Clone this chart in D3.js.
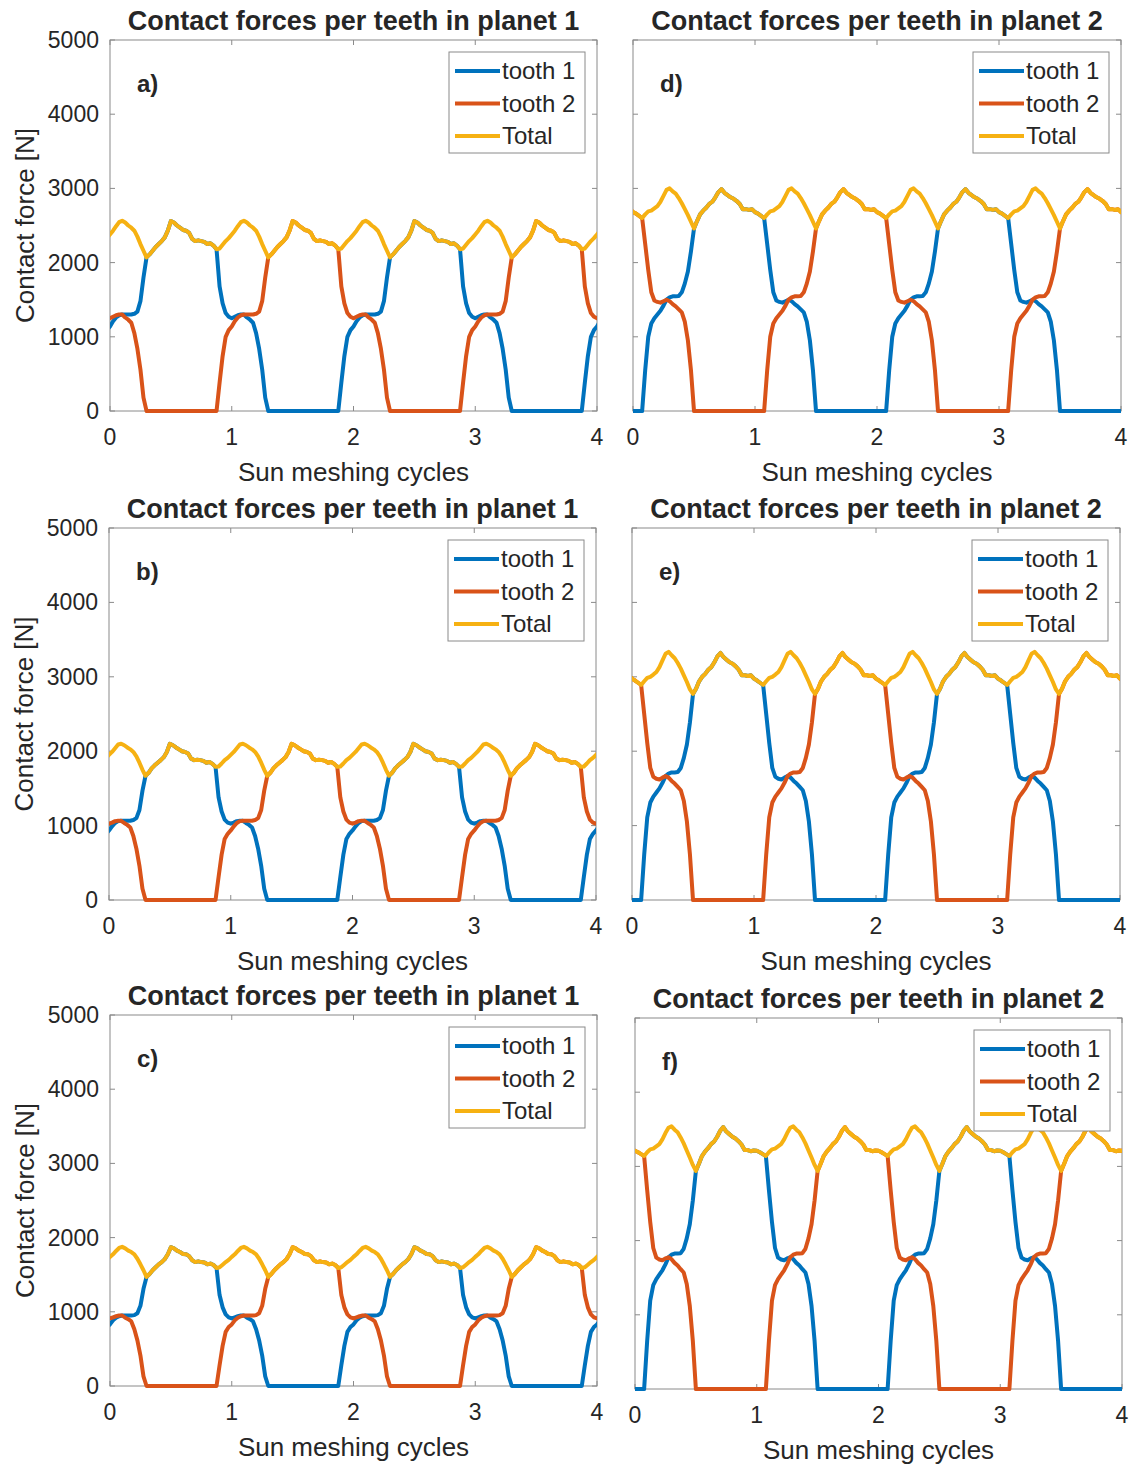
<!DOCTYPE html>
<html>
<head>
<meta charset="utf-8">
<script src="https://cdn.jsdelivr.net/npm/d3@7"></script>
<style>
  body { margin: 0; background: #fff; }
  text { font-family: "Liberation Sans", Arial, sans-serif; fill: #262626; }
</style>
</head>
<body>
<svg width="1134" height="1465"></svg>
<script>
// phases of one sun meshing cycle (total force is periodic with 1 cycle)
const cyclePhase = [0, 0.025, 0.05, 0.075, 0.1, 0.125, 0.15, 0.175, 0.2, 0.225,
  0.25, 0.275, 0.3, 0.325, 0.35, 0.375, 0.4, 0.425, 0.45, 0.475,
  0.5, 0.525, 0.55, 0.575, 0.6, 0.625, 0.65, 0.675, 0.7, 0.725,
  0.75, 0.775, 0.8, 0.825, 0.85, 0.875, 0.9, 0.925, 0.95, 0.975];

// double contact windows (relative to the cycle start)
const contactPhase1 = [-0.125, -0.1, -0.075, -0.05, -0.025, 0, 0.025, 0.05, 0.075, 0.1,
  0.125, 0.15, 0.175, 0.2, 0.225, 0.25, 0.275, 0.3];
const contactPhase2 = [0.075, 0.1, 0.125, 0.15, 0.175, 0.2, 0.225, 0.25, 0.275, 0.3,
  0.325, 0.35, 0.375, 0.4, 0.425, 0.45, 0.475, 0.5];

const xTicks = [0, 1, 2, 3, 4];
const yTicks = [0, 1000, 2000, 3000, 4000, 5000];
const seriesNames = ["tooth 1", "tooth 2", "Total"];
const seriesColors = ["#0072BD", "#D95319", "#F6B112"];

// planet 1
const totalA = [2380, 2430, 2490, 2545, 2565, 2540, 2500, 2470, 2430, 2350, 2250, 2160, 2070, 2110, 2160, 2210, 2250, 2290, 2340, 2430,
  2560, 2540, 2500, 2470, 2440, 2430, 2400, 2320, 2290, 2300, 2290, 2280, 2250, 2260, 2230, 2180, 2190, 2240, 2290, 2330];
const enterA = [0, 380, 740, 1000, 1090, 1140, 1210, 1260, 1290, 1300, 1300, 1300, 1300, 1310, 1340, 1480, 1800, 2070];
const leaveA = [2180, 1680, 1450, 1320, 1270, 1250, 1270, 1290, 1300, 1300, 1260, 1230, 1190, 1050, 840, 560, 180, 0];

const totalB = [1950, 1990, 2040, 2090, 2100, 2080, 2050, 2025, 1990, 1930, 1845, 1750, 1670, 1710, 1770, 1810, 1845, 1880, 1920, 1990,
  2100, 2080, 2050, 2025, 2000, 1990, 1970, 1900, 1880, 1885, 1880, 1870, 1845, 1855, 1830, 1790, 1795, 1835, 1880, 1910];
const enterB = [0, 310, 610, 820, 890, 935, 990, 1035, 1060, 1065, 1065, 1065, 1065, 1075, 1100, 1210, 1470, 1670];
const leaveB = [1790, 1380, 1190, 1080, 1040, 1025, 1040, 1060, 1065, 1065, 1035, 1010, 975, 860, 690, 460, 150, 0];

const totalC = [1740, 1775, 1820, 1860, 1875, 1855, 1825, 1805, 1775, 1715, 1640, 1560, 1470, 1510, 1560, 1600, 1640, 1670, 1710, 1775,
  1870, 1855, 1825, 1805, 1780, 1775, 1750, 1695, 1670, 1680, 1670, 1665, 1640, 1650, 1630, 1590, 1600, 1635, 1670, 1700];
const enterC = [0, 280, 540, 730, 795, 830, 885, 920, 940, 950, 950, 950, 950, 955, 980, 1080, 1310, 1470];
const leaveC = [1590, 1225, 1060, 965, 925, 910, 925, 940, 950, 950, 920, 900, 870, 765, 615, 410, 130, 0];

// planet 2
const totalD = [2680, 2660, 2630, 2600, 2650, 2690, 2700, 2730, 2760, 2820, 2900, 2980, 3000, 2960, 2930, 2870, 2800, 2720, 2640, 2550,
  2460, 2560, 2650, 2700, 2740, 2790, 2820, 2880, 2950, 2990, 2940, 2910, 2880, 2860, 2830, 2790, 2720, 2720, 2710, 2720];
const enterD = [0, 550, 1000, 1180, 1250, 1300, 1350, 1420, 1500, 1530, 1545, 1545, 1550, 1600, 1720, 1880, 2150, 2460];
const leaveD = [2600, 2250, 1900, 1600, 1490, 1470, 1460, 1480, 1500, 1480, 1440, 1410, 1370, 1330, 1200, 950, 550, 0];

const totalE = [2975, 2950, 2920, 2890, 2940, 2985, 3000, 3030, 3065, 3130, 3220, 3310, 3335, 3290, 3250, 3185, 3110, 3020, 2930, 2830,
  2770, 2840, 2940, 3000, 3040, 3095, 3130, 3195, 3275, 3320, 3265, 3230, 3195, 3175, 3140, 3095, 3020, 3020, 3010, 3020];
const enterE = [0, 610, 1110, 1310, 1390, 1445, 1500, 1575, 1665, 1700, 1715, 1715, 1720, 1775, 1910, 2090, 2390, 2770];
const leaveE = [2890, 2500, 2110, 1775, 1655, 1630, 1620, 1645, 1665, 1645, 1600, 1565, 1520, 1475, 1330, 1055, 610, 0];

const totalF = [3210, 3190, 3165, 3140, 3190, 3230, 3240, 3270, 3300, 3365, 3450, 3520, 3540, 3495, 3460, 3390, 3310, 3215, 3120, 3020,
  2940, 3035, 3140, 3200, 3245, 3300, 3335, 3400, 3480, 3530, 3470, 3435, 3400, 3375, 3340, 3295, 3220, 3220, 3205, 3215];
const enterF = [0, 650, 1190, 1400, 1480, 1540, 1600, 1680, 1775, 1810, 1825, 1825, 1830, 1890, 2030, 2220, 2540, 2940];
const leaveF = [3140, 2680, 2250, 1900, 1770, 1745, 1735, 1760, 1775, 1750, 1700, 1665, 1615, 1570, 1415, 1120, 650, 0];

const panels = [
  {label: "a)", planet: 1, total: totalA, enter: enterA, leave: leaveA, L: 110, R: 597, T: 40, B: 411, yAxis: true},
  {label: "d)", planet: 2, total: totalD, enter: enterD, leave: leaveD, L: 633, R: 1121, T: 40, B: 411, yAxis: false},
  {label: "b)", planet: 1, total: totalB, enter: enterB, leave: leaveB, L: 109, R: 596, T: 528, B: 900, yAxis: true},
  {label: "e)", planet: 2, total: totalE, enter: enterE, leave: leaveE, L: 632, R: 1120, T: 528, B: 900, yAxis: false},
  {label: "c)", planet: 1, total: totalC, enter: enterC, leave: leaveC, L: 110, R: 597, T: 1015, B: 1386, yAxis: true},
  {label: "f)", planet: 2, total: totalF, enter: enterF, leave: leaveF, L: 635, R: 1122, T: 1018, B: 1389, yAxis: false}
];

// tile the cycle readings over the plotted range; teeth alternate each cycle
function buildSeries(p) {
  const phases = p.planet === 1 ? contactPhase1 : contactPhase2;
  const w0 = phases[0], w1 = phases[phases.length - 1];
  const tot = [];
  for (let k = -1; k <= 4; k++) cyclePhase.forEach((ph, i) => tot.push({x: k + ph, y: p.total[i]}));
  tot.push({x: 5, y: p.total[0]});
  const teeth = [[], []];
  for (let k = -1; k <= 4; k++) {
    const ent = Math.abs(k) % 2 === 0 ? 0 : 1;
    phases.forEach((ph, i) => {
      teeth[ent].push({x: k + ph, y: p.enter[i]});
      teeth[1 - ent].push({x: k + ph, y: p.leave[i]});
    });
    tot.filter(d => d.x > k + w1 + 1e-6 && d.x < k + 1 + w0 - 1e-6)
       .forEach(d => teeth[ent].push(d));
  }
  return [teeth[0], teeth[1], tot];
}

const svg = d3.select("svg");
svg.append("rect").attr("width", 1134).attr("height", 1465).attr("fill", "#fff");

panels.forEach((p, pi) => {
  const x = d3.scaleLinear().domain([0, 4]).range([p.L, p.R]);
  const y = d3.scaleLinear().domain([0, 5000]).range([p.B, p.T]);
  const g = svg.append("g");

  g.append("clipPath").attr("id", "clip" + pi)
    .append("rect").attr("x", p.L).attr("y", p.T - 20)
    .attr("width", p.R - p.L).attr("height", p.B - p.T + 40);

  // box and ticks
  g.append("rect").attr("x", p.L).attr("y", p.T).attr("width", p.R - p.L).attr("height", p.B - p.T)
    .attr("fill", "none").attr("stroke", "#8a8a8a").attr("stroke-width", 1);
  xTicks.forEach(t => {
    g.append("line").attr("x1", x(t)).attr("x2", x(t)).attr("y1", p.B).attr("y2", p.B - 5).attr("stroke", "#8a8a8a");
    g.append("line").attr("x1", x(t)).attr("x2", x(t)).attr("y1", p.T).attr("y2", p.T + 5).attr("stroke", "#8a8a8a");
    g.append("text").attr("x", x(t)).attr("y", p.B + 34).attr("text-anchor", "middle")
      .attr("font-size", 23).text(t);
  });
  yTicks.forEach(t => {
    g.append("line").attr("x1", p.L).attr("x2", p.L + 5).attr("y1", y(t)).attr("y2", y(t)).attr("stroke", "#8a8a8a");
    g.append("line").attr("x1", p.R).attr("x2", p.R - 5).attr("y1", y(t)).attr("y2", y(t)).attr("stroke", "#8a8a8a");
    if (p.yAxis) {
      g.append("text").attr("x", p.L - 11).attr("y", y(t) + 8).attr("text-anchor", "end")
        .attr("font-size", 23).text(t);
    }
  });

  g.append("text").attr("x", (p.L + p.R) / 2).attr("y", p.B + 70).attr("text-anchor", "middle")
    .attr("font-size", 26).text("Sun meshing cycles");
  if (p.yAxis) {
    g.append("text").attr("transform", `translate(${p.L - 76},${(p.T + p.B) / 2}) rotate(-90)`)
      .attr("text-anchor", "middle").attr("font-size", 26).text("Contact force [N]");
  }
  g.append("text").attr("x", (p.L + p.R) / 2).attr("y", p.T - 10).attr("text-anchor", "middle")
    .attr("font-size", 27).attr("font-weight", "bold")
    .text("Contact forces per teeth in planet " + p.planet);

  // curves
  const line = d3.line().x(d => x(d.x)).y(d => y(d.y));
  const series = buildSeries(p);
  const lines = g.append("g").attr("clip-path", `url(#clip${pi})`);
  series.forEach((s, si) => {
    lines.append("path").datum(s).attr("d", line).attr("fill", "none")
      .attr("stroke", seriesColors[si]).attr("stroke-width", 4)
      .attr("stroke-linejoin", "round");
  });

  g.append("text").attr("x", p.L + 27).attr("y", p.T + 52)
    .attr("font-size", 24).attr("font-weight", "bold").text(p.label);

  // legend
  const lx = p.R - 148, ly = p.T + 12;
  const leg = g.append("g").attr("transform", `translate(${lx},${ly})`);
  leg.append("rect").attr("width", 136).attr("height", 101).attr("fill", "#fff")
    .attr("stroke", "#8a8a8a").attr("stroke-width", 1);
  seriesNames.forEach((n, i) => {
    const yy = 19 + i * 32.5;
    leg.append("line").attr("x1", 6).attr("x2", 51).attr("y1", yy).attr("y2", yy)
      .attr("stroke", seriesColors[i]).attr("stroke-width", 4);
    leg.append("text").attr("x", 53).attr("y", yy + 8).attr("font-size", 24).text(n);
  });
});
</script>
</body>
</html>
